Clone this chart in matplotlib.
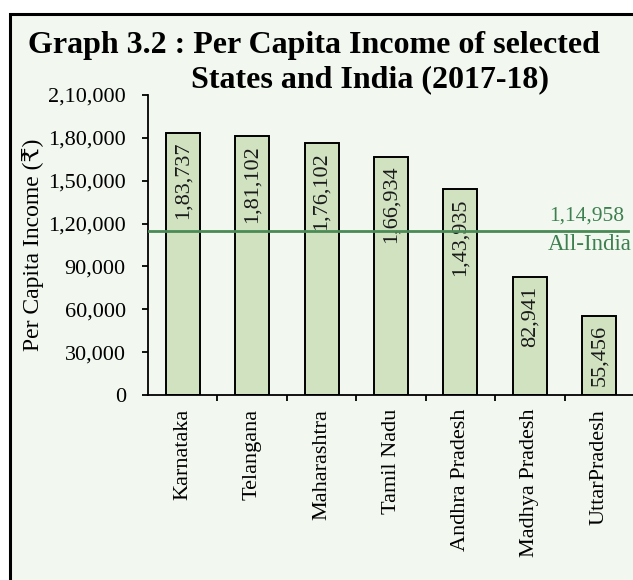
import matplotlib
matplotlib.use("Agg")
import matplotlib.pyplot as plt
from matplotlib.patches import Rectangle

states = ["Karnataka", "Telangana", "Maharashtra", "Tamil Nadu",
          "Andhra Pradesh", "Madhya Pradesh", "UttarPradesh"]
values = [183737, 181102, 176102, 166934, 143935, 82941, 55456]
value_labels = ["1,83,737", "1,81,102", "1,76,102", "1,66,934", "1,43,935", "82,941", "55,456"]
all_india = 114958
all_india_label = "1,14,958"
yticks = [0, 30000, 60000, 90000, 120000, 150000, 180000, 210000]
ytick_labels = ["0", "30,000", "60,000", "90,000", "1,20,000", "1,50,000", "1,80,000", "2,10,000"]

W, H = 633, 580
serif = ["Liberation Serif", "DejaVu Serif", "DejaVu Sans"]
plt.rcParams['font.family'] = serif

fig = plt.figure(figsize=(W / 100, H / 100), dpi=100)
fig.patch.set_facecolor("white")
bgc = "#f2f7f0"
# framed background box
fig.patches.append(Rectangle((10 / W, -0.1), 1.0, 1.1 - 14 / H, transform=fig.transFigure,
                             facecolor=bgc, edgecolor="black", linewidth=2.2, zorder=-10))

ax = fig.add_axes([148 / W, 1 - 395 / H, (634 - 148) / W, 300 / H])
ax.set_facecolor("none")
x = list(range(len(states)))
ax.bar(x, values, width=0.49, color="#d0e2c0", edgecolor="black", linewidth=1.4, zorder=2)
ax.set_xlim(-0.5, len(states) - 0.5)
ax.set_ylim(0, 210000)

for xi, v, lab in zip(x, values, value_labels):
    ax.annotate(lab, (xi, v), xytext=(0, -6.5), textcoords="offset points",
                rotation=90, ha="center", va="top", fontsize=16, color="#1a1a1a", zorder=3)

ax.axhline(all_india, xmin=0, xmax=(628 - 148) / (634 - 148), color="#4a8a55", linewidth=2, zorder=4)
ax.text(6.36, all_india + 3500, all_india_label, ha="right", va="bottom", fontsize=15.5, color="#3d8050")
ax.text(6.46, all_india - 2500, "All-India", ha="right", va="top", fontsize=16.5, color="#3d8050")

ax.set_yticks(yticks)
ax.set_yticklabels(ytick_labels, fontsize=16)
ax.set_xticks(x)
ax.set_xticklabels(states, rotation=90, fontsize=16)
ax.set_xticks([i + 0.5 for i in range(len(states) - 1)], minor=True)
ax.tick_params(axis="x", which="major", length=0, pad=10)
ax.tick_params(axis="x", which="minor", length=4, width=1.3, direction="out")
ax.tick_params(axis="y", length=4, width=1.3, direction="out", pad=12)
for s in ["top", "right"]:
    ax.spines[s].set_visible(False)
ax.spines["left"].set_linewidth(1.3)
ax.spines["bottom"].set_linewidth(1.3)
ax.set_ylabel("Per Capita Income (₹)", fontsize=17, labelpad=3)

fig.text(28 / W, 1 - 45 / H, "Graph 3.2 : Per Capita Income of selected", ha="left", va="center",
         fontsize=23, fontweight="bold")
fig.text(370 / W, 1 - 80 / H, "States and India (2017-18)", ha="center", va="center",
         fontsize=23, fontweight="bold")

fig.savefig("out.png", dpi=100, facecolor="white")
